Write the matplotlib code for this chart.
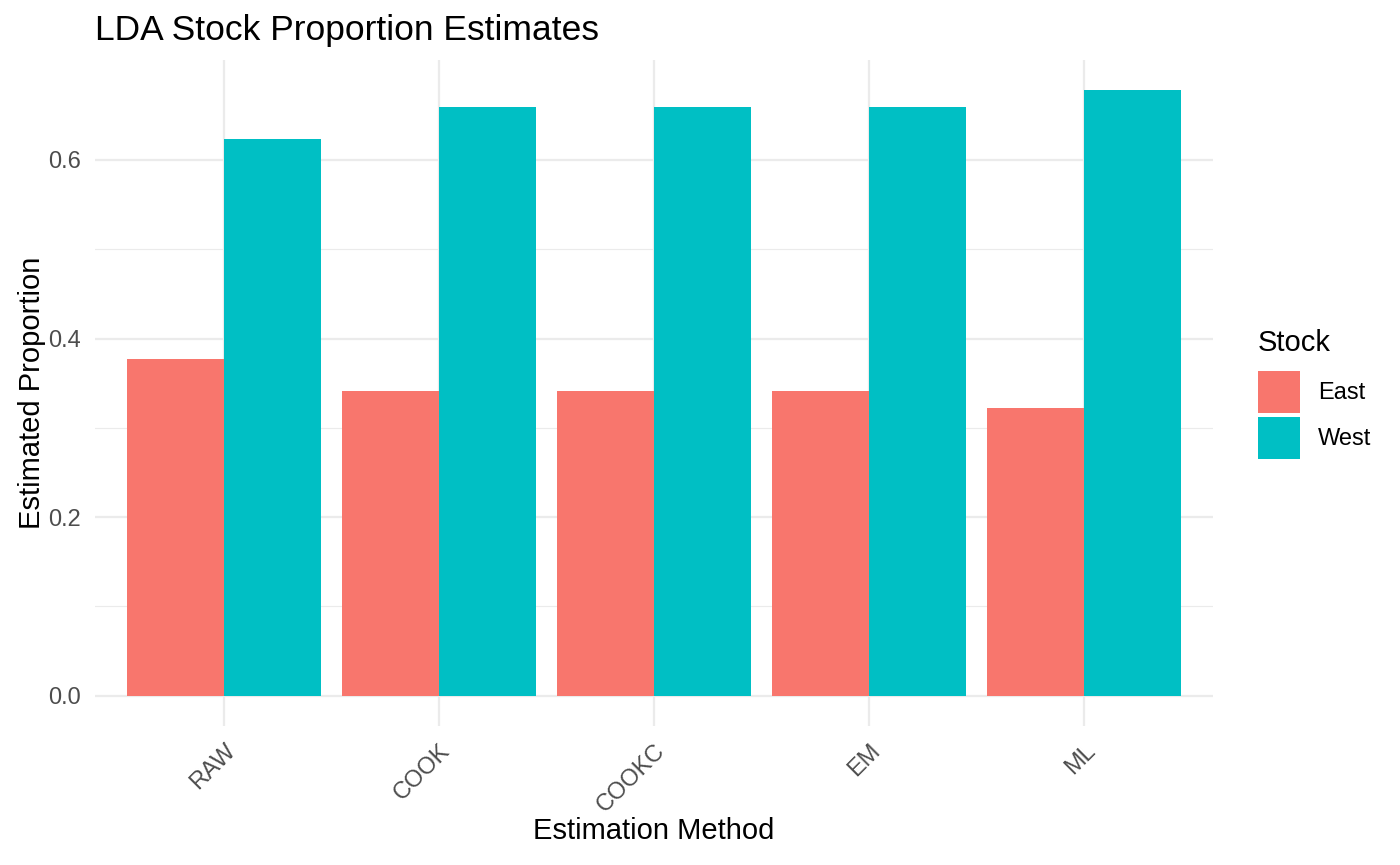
"""Grouped bar chart of LDA stock proportion estimates by estimation method."""

import matplotlib

matplotlib.use("Agg")
import matplotlib.pyplot as plt
import numpy as np
from matplotlib.patches import Patch

methods = ["RAW", "COOK", "COOKC", "EM", "ML"]
stocks = ["East", "West"]
east = [0.377, 0.341, 0.341, 0.341, 0.322]
west = [0.623, 0.659, 0.659, 0.659, 0.678]
y_ticks = [0.0, 0.2, 0.4, 0.6]
y_minor = [0.1, 0.3, 0.5]

COLORS = {"East": "#F8766D", "West": "#00BFC4"}
W, H = 1400, 865

plt.rcParams["font.family"] = ["Liberation Sans", "DejaVu Sans"]

fig = plt.figure(figsize=(W / 100, H / 100), dpi=100)
ax = fig.add_axes([95 / W, (H - 726) / H, 1118 / W, 666 / H])

x = np.arange(len(methods))
width = 0.45
ax.bar(x - width / 2, east, width, color=COLORS["East"], zorder=2)
ax.bar(x + width / 2, west, width, color=COLORS["West"], zorder=2)

# ggplot-style expansion
ymax = max(max(east), max(west))
ax.set_ylim(-0.05 * ymax, 1.05 * ymax)
ax.set_xlim(-0.6, len(methods) - 0.4)

ax.set_xticks(x)
ax.set_xticklabels(methods)
ax.set_yticks(y_ticks)
ax.set_yticklabels([f"{v:.1f}" for v in y_ticks])
ax.set_yticks(y_minor, minor=True)

for v in y_ticks:
    ax.axhline(v, color="#EBEBEB", lw=1.6, zorder=0)
for v in y_minor:
    ax.axhline(v, color="#EBEBEB", lw=0.8, zorder=0)
for v in x:
    ax.axvline(v, color="#EBEBEB", lw=1.6, zorder=0)

for s in ax.spines.values():
    s.set_visible(False)
ax.tick_params(axis="both", which="both", length=0, colors="#4D4D4D", labelsize=17)
ax.tick_params(axis="y", pad=10)
ax.tick_params(axis="x", pad=10)
for lab in ax.get_xticklabels():
    lab.set_rotation(45)
    lab.set_ha("right")
    lab.set_va("top")
    lab.set_rotation_mode("anchor")

ax.set_xlabel("Estimation Method", fontsize=21, color="black")
ax.xaxis.set_label_coords(0.5, -0.137)
ax.set_ylabel("Estimated Proportion", fontsize=21, color="black")
ax.yaxis.set_label_coords(-0.044, 0.5)

fig.text(95 / W, (H - 40) / H, "LDA Stock Proportion Estimates",
         fontsize=25.5, va="baseline", ha="left", color="black")

# legend: title as separate text so the gap to the keys matches
fig.text(1258 / W, (H - 351) / H, "Stock", fontsize=21, va="baseline", ha="left")
handles = [Patch(facecolor=COLORS[s], edgecolor="none") for s in stocks]
leg = fig.legend(handles, stocks, loc="upper left",
                 bbox_to_anchor=(1258 / W, (H - 371) / H), frameon=False,
                 fontsize=17, handlelength=1.78, handleheight=2.36,
                 labelspacing=0.17, handletextpad=0.76,
                 borderpad=0, borderaxespad=0)

fig.savefig("out.png", dpi=100)
